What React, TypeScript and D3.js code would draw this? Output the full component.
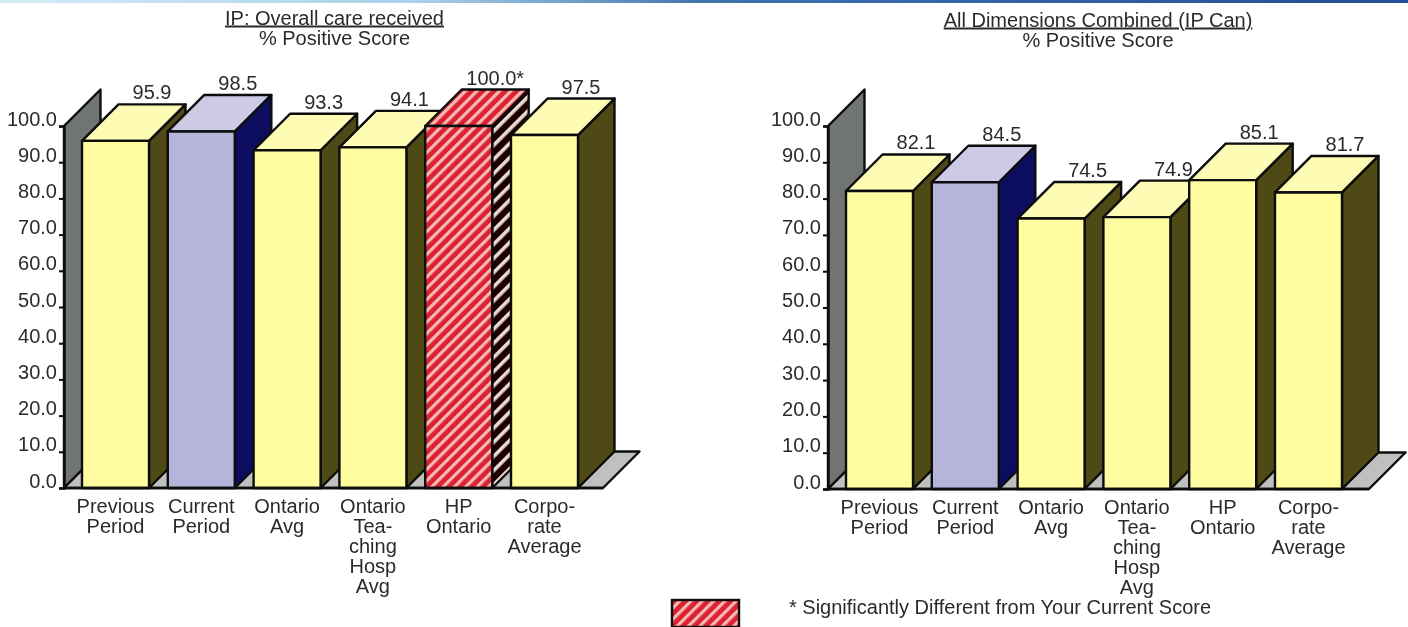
import * as d3 from 'd3';
import React, { useEffect, useRef } from 'react';

const categories: string[][] = [
    ['Previous', 'Period'],
    ['Current', 'Period'],
    ['Ontario', 'Avg'],
    ['Ontario', 'Tea-', 'ching', 'Hosp', 'Avg'],
    ['HP', 'Ontario'],
    ['Corpo-', 'rate', 'Average'],
];
const overallCare = [95.9, 98.5, 93.3, 94.1, 100.0, 97.5];
const overallCareLabels = ['95.9', '98.5', '93.3', '94.1', '100.0*', '97.5'];
const overallCareKinds = ['plain', 'current', 'plain', 'plain', 'hp', 'plain'];
const allDimensions = [82.1, 84.5, 74.5, 74.9, 85.1, 81.7];
const allDimensionsLabels = ['82.1', '84.5', '74.5', '74.9', '85.1', '81.7'];
const allDimensionsKinds = ['plain', 'current', 'plain', 'plain', 'plain', 'plain'];
const yTicks = [0, 10, 20, 30, 40, 50, 60, 70, 80, 90, 100];
const FONT = '"Liberation Sans", Arial, sans-serif';
const FONT_SIZE = 20;
const TEXT = '#2b2b2b';

const palette: any = {
    plain: { front: '#fffd9f', top: '#fdfbb4', side: '#4f4812' },
    current: { front: '#b5b5dc', top: '#cdcae6', side: '#0b1060' },
    hp: { front: 'url(#hatchFront)', top: 'url(#hatchFront)', side: 'url(#hatchSide)' },
};

function addHatch(defs: any, id: string, base: string, stripe: string, size: number, stripeWidth: number) {
    const p = defs.append('pattern')
        .attr('id', id)
        .attr('patternUnits', 'userSpaceOnUse')
        .attr('width', size)
        .attr('height', size)
        .attr('patternTransform', 'rotate(45)');
    p.append('rect').attr('width', size).attr('height', size).attr('fill', base);
    p.append('rect').attr('x', 0).attr('width', stripeWidth).attr('height', size).attr('fill', stripe);
}

function drawChart(root: any, opts: any) {
    const { axisX, barStart, barEnd, floorEnd, y0, y100, depth, values, labels, kinds, title, titleX, titleY, subY } = opts;

    const x = d3.scaleBand<number>().domain(d3.range(values.length)).range([barStart, barEnd]).paddingInner(0.219);
    const y = d3.scaleLinear().domain([0, 100]).range([y0, y100]);
    const g = root.append('g');

    const poly = (pts: number[][], fill: string) => g.append('polygon')
        .attr('points', pts.join(' '))
        .attr('fill', fill)
        .attr('stroke', '#0a0a0a')
        .attr('stroke-width', 2.4)
        .attr('stroke-linejoin', 'round');

    // back wall and floor
    poly([[axisX, y100], [axisX + depth, y100 - depth], [axisX + depth, y0 - depth], [axisX, y0]], '#6f7471');
    poly([[axisX, y0], [axisX + depth, y0 - depth], [floorEnd + depth, y0 - depth], [floorEnd, y0]], '#bfc1bf');

    // bars
    values.forEach((v: number, i: number) => {
        const c = palette[kinds[i]];
        const l = x(i) as number;
        const r = l + x.bandwidth();
        const t = y(v);
        poly([[r, y0], [r + depth, y0 - depth], [r + depth, t - depth], [r, t]], c.side);
        poly([[l, t], [l + depth, t - depth], [r + depth, t - depth], [r, t]], c.top);
        poly([[l, t], [r, t], [r, y0], [l, y0]], c.front);

        g.append('text')
            .attr('x', (l + r) / 2 + depth)
            .attr('y', t - depth - 5)
            .attr('text-anchor', 'middle')
            .attr('font-size', FONT_SIZE)
            .attr('font-family', FONT)
            .attr('fill', TEXT)
            .text(labels[i]);

        const cat = g.append('text')
            .attr('text-anchor', 'middle')
            .attr('font-size', FONT_SIZE)
            .attr('font-family', FONT)
            .attr('fill', TEXT);
        categories[i].forEach((line, k) => {
            cat.append('tspan')
                .attr('x', (l + r) / 2)
                .attr('y', y0 + 25 + k * 20)
                .text(line);
        });
    });

    // baseline across the floor
    g.append('line')
        .attr('x1', axisX).attr('x2', floorEnd)
        .attr('y1', y0).attr('y2', y0)
        .attr('stroke', '#0a0a0a').attr('stroke-width', 2.4);

    // y axis
    const axis = d3.axisLeft(y).tickValues(yTicks).tickFormat(d3.format('.1f') as any).tickSize(5).tickPadding(2);
    const ax = g.append('g')
        .attr('transform', `translate(${axisX}, 0)`)
        .call(axis);
    ax.select('.domain').attr('stroke', '#0a0a0a').attr('stroke-width', 2.4);
    ax.selectAll('.tick line').attr('stroke', '#0a0a0a').attr('stroke-width', 2);
    ax.selectAll('.tick text')
        .attr('font-size', FONT_SIZE)
        .attr('font-family', FONT)
        .attr('fill', TEXT)
        .attr('dy', '0')
        .attr('y', -1);

    // titles
    g.append('text')
        .attr('x', titleX).attr('y', titleY)
        .attr('text-anchor', 'middle')
        .attr('font-size', FONT_SIZE)
        .attr('font-family', FONT)
        .attr('fill', TEXT)
        .attr('text-decoration', 'underline')
        .text(title);
    g.append('text')
        .attr('x', titleX).attr('y', subY)
        .attr('text-anchor', 'middle')
        .attr('font-size', FONT_SIZE)
        .attr('font-family', FONT)
        .attr('fill', TEXT)
        .text('% Positive Score');
}

export default function App() {
    const ref = useRef<any>();

    useEffect(() => {
        const svg = d3.select<any, any>(ref.current);
        svg.selectAll('*').remove();

        const defs = svg.append('defs');
        const grad = defs.append('linearGradient').attr('id', 'topStrip');
        grad.append('stop').attr('offset', '0%').attr('stop-color', '#d4ecf7');
        grad.append('stop').attr('offset', '30%').attr('stop-color', '#a9d0e8');
        grad.append('stop').attr('offset', '50%').attr('stop-color', '#3f74ad');
        grad.append('stop').attr('offset', '100%').attr('stop-color', '#1f4f98');
        addHatch(defs, 'hatchFront', '#dc2233', '#f6b9b4', 8, 3.2);
        addHatch(defs, 'hatchSide', '#1c0006', '#e6dcd2', 10, 3.6);
        defs.append('filter').attr('id', 'soft')
            .append('feGaussianBlur').attr('stdDeviation', 0.4);

        svg.append('rect').attr('width', 1408).attr('height', 627).attr('fill', '#ffffff');
        svg.append('rect').attr('width', 1408).attr('height', 3).attr('fill', 'url(#topStrip)');

        const root = svg.append('g').attr('filter', 'url(#soft)');

        drawChart(root, {
            axisX: 64, barStart: 82, barEnd: 578, floorEnd: 603, y0: 488, y100: 126, depth: 36.5,
            values: overallCare, labels: overallCareLabels, kinds: overallCareKinds,
            title: 'IP: Overall care received', titleX: 334.5, titleY: 24.5, subY: 45,
        });
        drawChart(root, {
            axisX: 828, barStart: 846, barEnd: 1342, floorEnd: 1369, y0: 489, y100: 126, depth: 36.5,
            values: allDimensions, labels: allDimensionsLabels, kinds: allDimensionsKinds,
            title: 'All Dimensions Combined (IP Can)', titleX: 1098, titleY: 26.5, subY: 47,
        });

        // legend
        root.append('rect')
            .attr('x', 672).attr('y', 600).attr('width', 67).attr('height', 27)
            .attr('fill', 'url(#hatchFront)')
            .attr('stroke', '#0a0a0a').attr('stroke-width', 2.4);
        root.append('text')
            .attr('x', 789).attr('y', 614)
            .attr('font-size', FONT_SIZE)
            .attr('font-family', FONT)
            .attr('fill', TEXT)
            .text('* Significantly Different from Your Current Score');
    });

    return (
        <React.Fragment>
            <svg ref={ref} width={1408} height={627} style={{ position: 'absolute', left: 0, top: 0 }}></svg>
        </React.Fragment>
    );
}
